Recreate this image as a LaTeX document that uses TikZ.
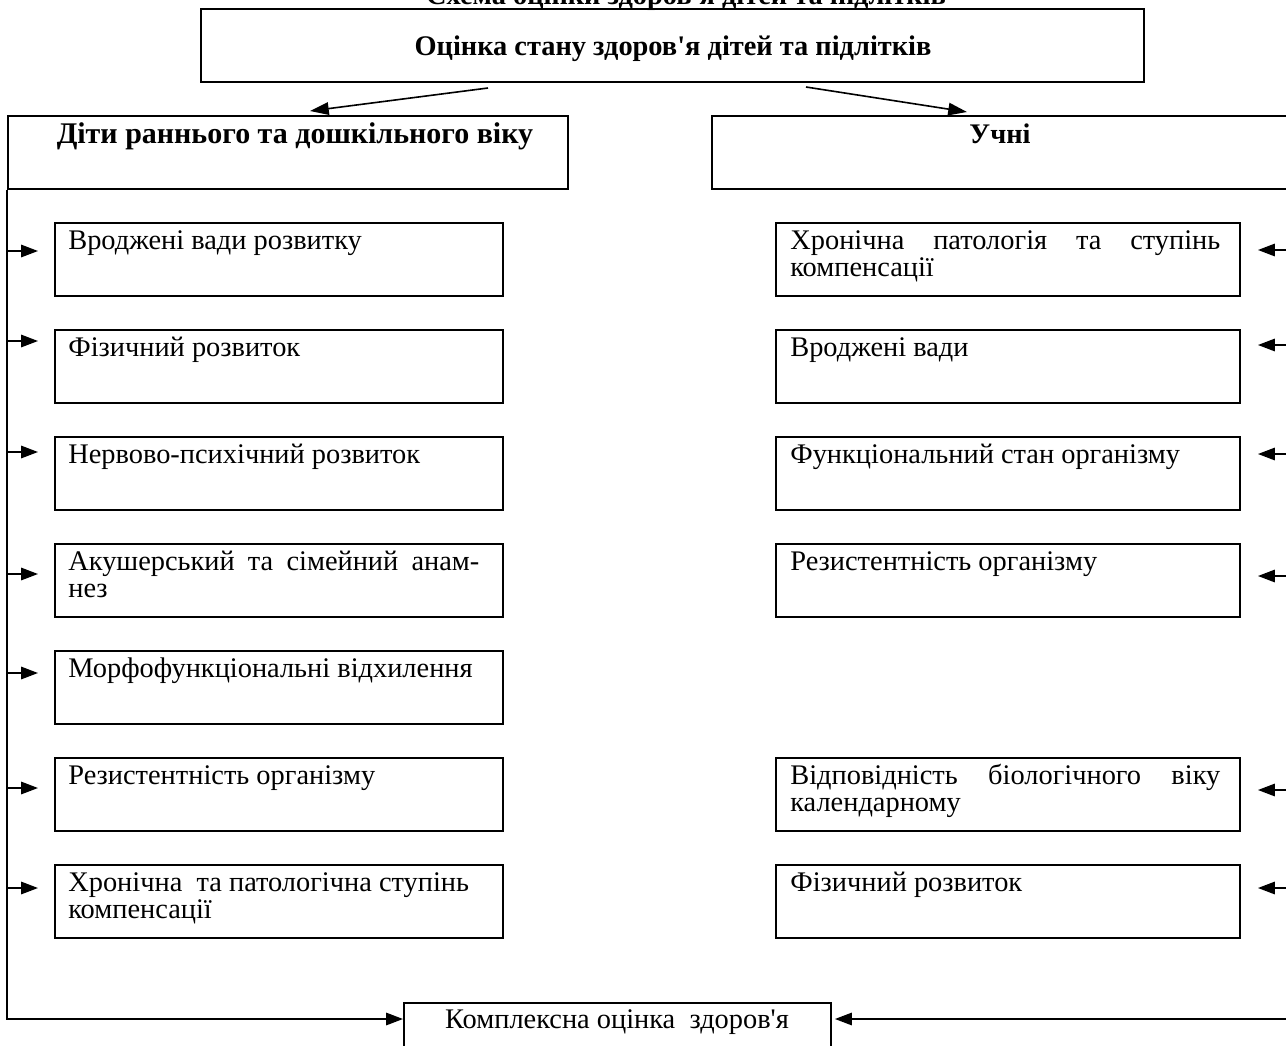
\documentclass[tikz,border=0pt]{standalone}
\usepackage{fontspec}
\setmainfont{Liberation Serif}[Ligatures=TeXOff]
\usetikzlibrary{arrows.meta}
\newlength\pxu
\setlength\pxu{0.56pt}
\lineskiplimit=-20pt
\newcommand\jl[2]{\makebox[#1\pxu][s]{#2}}
\newcommand\litem[3]{%
  \node[boxframe, minimum width=448*0.56pt, minimum height=73*0.56pt] (#1) at (54,#2) {};
  \node[itemtext] (#1t) at ([xshift=14*0.56pt]#1.north west) {\rule{0pt}{27.5\pxu}#3};
}
\newcommand\ritem[3]{%
  \node[boxframe, minimum width=464*0.56pt, minimum height=73*0.56pt] (#1) at (775,#2) {};
  \node[itemtext] (#1t) at ([xshift=15*0.56pt]#1.north west) {\rule{0pt}{27.5\pxu}#3};
}
\begin{document}
\begin{tikzpicture}[x=0.56pt, y=-0.56pt,
  font=\fontsize{15.9}{15.1}\selectfont,
  boxframe/.style={draw, line width=1.1pt, inner sep=0pt, anchor=north west},
  itemtext/.style={inner sep=0pt, anchor=north west, align=left},
  head/.style={font=\fontsize{15.9}{15.1}\selectfont\bfseries, inner sep=0pt, anchor=base},
  plain/.style={inner sep=0pt, anchor=base},
  conn/.style={line width=0.9pt},
  arr/.style={conn, -{Triangle[length=9.5pt,width=7pt]}},
  bigarr/.style={conn, -{Triangle[length=10.5pt,width=7pt]}},
]
\useasboundingbox (0,0) rectangle (1286,1046);
\clip (0,0) rectangle (1286,1046);

% title (cut off at top, as in the reference)
\node[head] (title) at (686,4) {Схема оцінки здоров'я дітей та підлітків};

% top box
\node[boxframe, minimum width=943*0.56pt, minimum height=73*0.56pt] (T) at (200,8) {};
\node[head] (Tt) at (673,55) {Оцінка стану здоров'я дітей та підлітків};

% second level
\node[boxframe, minimum width=560*0.56pt, minimum height=73*0.56pt] (L) at (7,115) {};
\node[head, font=\fontsize{16.8}{16}\selectfont\bfseries] (Lt) at (295,143) {Діти раннього та дошкільного віку};
\node[boxframe, minimum width=584*0.56pt, minimum height=73*0.56pt] (R) at (711,115) {};
\node[head] (Rt) at (1000,143) {Учні};

\coordinate (ta1) at (488,88);
\coordinate (ta1e) at (310,111);
\coordinate (ta2) at (806,87);
\coordinate (ta2e) at (967,112);
\draw[bigarr] (ta1) -- (ta1e);
\draw[bigarr] (ta2) -- (ta2e);

% left items
\litem{l1}{222}{Вроджені вади розвитку}
\litem{l2}{329}{Фізичний розвиток}
\litem{l3}{436}{Нервово-психічний розвиток}
\litem{l4}{543}{\jl{411}{Акушерський та сімейний анам-}\\нез}
\litem{l5}{650}{Морфофункціональні відхилення}
\litem{l6}{757}{Резистентність організму}
\litem{l7}{864}{Хронічна\ \ та патологічна ступінь\\компенсації}

% right items
\ritem{r1}{222}{\jl{430}{Хронічна патологія та ступінь}\\компенсації}
\ritem{r2}{329}{Вроджені вади}
\ritem{r3}{436}{Функціональний стан організму}
\ritem{r4}{543}{Резистентність організму}
\ritem{r5}{757}{\jl{430}{Відповідність біологічного віку}\\календарному}
\ritem{r6}{864}{Фізичний розвиток}

% bottom box
\node[boxframe, minimum width=427*0.56pt, minimum height=73*0.56pt] (B) at (403,1002) {};
\node[plain] (Bt) at (617,1028) {Комплексна оцінка\ \ здоров'я};

% trunks
\coordinate (lb) at (7,1019);
\coordinate (rb) at (1295,1019);
\draw[arr] (L.south west) -- (lb) -- (lb -| B.west);
\draw[conn] (R.south east) -- (rb);
\draw[arr, shorten >=3*0.56pt] (rb) -- (rb -| B.east);

% left arrows
\foreach \n/\yy in {l1/251, l2/341, l3/452, l4/574, l5/673, l6/788, l7/888}{
  \coordinate (v\n) at (7,\yy);
  \draw[arr, shorten >=16*0.56pt] (v\n) -- (v\n -| \n.west);
}
% right arrows
\foreach \n/\yy in {r1/250, r2/345, r3/454, r4/576, r5/790, r6/888}{
  \coordinate (v\n) at (1295,\yy);
  \draw[arr, shorten >=17*0.56pt] (v\n) -- (v\n -| \n.east);
}
\end{tikzpicture}
\end{document}
